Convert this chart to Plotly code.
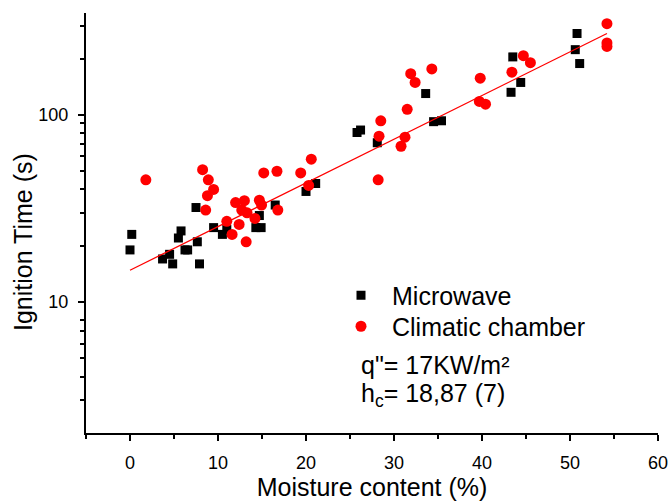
import plotly.graph_objects as go
import numpy as np

# Microwave series (moisture %, ignition time s)
mw_x = [0.0, 0.2, 3.7, 4.5, 4.85, 5.5, 5.8, 6.25, 6.55, 7.5, 7.65, 7.9, 9.5, 10.5, 11.0,
        14.3, 14.7, 14.9, 16.5, 20.0, 21.1, 25.8, 26.2, 28.1, 33.6, 34.5, 35.4,
        43.3, 43.5, 44.4, 50.6, 50.8, 51.1]
mw_y = [19, 23, 17, 18, 16, 22, 24, 19, 19, 32, 21, 16, 25, 23, 24.5,
        25, 29, 25, 33, 39, 43, 80.5, 83, 71, 130, 92, 93,
        132, 204, 149, 223, 272, 188]

# Climatic chamber series
cc_x = [1.8, 8.25, 8.6, 8.8, 8.9, 9.5, 11.0, 11.6, 12.0, 12.4, 12.7, 13.0, 13.2, 13.3,
        14.2, 14.7, 14.95, 15.2, 16.7, 16.8, 19.4, 20.3, 20.6, 28.2, 28.3, 28.5,
        30.8, 31.25, 31.5, 31.9, 32.4, 34.3, 39.7, 39.8, 40.4, 43.4, 44.7, 45.5,
        54.2, 54.2, 54.2]
cc_y = [45, 51, 31, 37, 45, 40, 27, 23, 34, 26, 31, 34.8, 21, 30,
        28, 35, 33, 49, 50, 31, 49, 42, 58, 45, 77, 93,
        68, 76, 107, 166, 149, 176, 118, 157, 114, 169, 207, 190,
        307, 242, 232]

# Fitted line end points
fit_x = [0.0, 54.2]
fit_y = [14.8, 272]

x_ticks = [0, 10, 20, 30, 40, 50, 60]
x_minor = [-5, 5, 15, 25, 35, 45, 55]
y_ticks = [10, 100]
y_minor = [3, 4, 5, 6, 7, 8, 20, 30, 40, 50, 60, 70, 80, 90, 200, 300]

FONT = "Arial, Liberation Sans, sans-serif"
BIG = 25

fig = go.Figure()
fig.add_trace(go.Scatter(x=mw_x, y=mw_y, mode="markers", name="Microwave", legend="legend",
                         marker=dict(symbol="square", size=9, color="black")))
fig.add_trace(go.Scatter(x=cc_x, y=cc_y, mode="markers", name="Climatic chamber",
                         legend="legend2",
                         marker=dict(symbol="circle", size=11, color="#ff0000")))
fig.add_trace(go.Scatter(x=fit_x, y=fit_y, mode="lines", showlegend=False,
                         line=dict(color="#ff0000", width=1.3)))

L, R, T, B = 86, 10, 13, 68
W, H = 668, 501
pw, ph = W - L - R, H - T - B

def px_x(p):
    return (p - L) / pw

def px_y(p):
    return (H - B - p) / ph

leg_common = dict(xanchor="left", yanchor="top", font=dict(size=BIG, family=FONT),
                  bgcolor="rgba(0,0,0,0)", itemwidth=52)

fig.update_layout(
    width=W, height=H,
    margin=dict(l=L, r=R, t=T, b=B, pad=0, autoexpand=False),
    paper_bgcolor="white", plot_bgcolor="white",
    font=dict(family=FONT, color="black", size=18),
    showlegend=True,
    legend=dict(x=px_x(330), y=px_y(272.5), **leg_common),
    legend2=dict(x=px_x(330), y=px_y(303.5), **leg_common),
    xaxis=dict(range=[-5, 60], tickmode="array", tickvals=x_ticks,
               ticktext=[str(v) for v in x_ticks], automargin=False,
               ticklabeloverflow="allow",
               showline=True, linecolor="black", linewidth=2,
               ticks="outside", ticklen=6, tickwidth=1.5, tickcolor="black",
               showgrid=False, zeroline=False, ticklabelstandoff=6,
               tickfont=dict(size=18),
               minor=dict(tickvals=x_minor, ticks="outside", ticklen=4, tickwidth=1.5,
                          tickcolor="black", showgrid=False),
               title=dict(text="Moisture content (%)", font=dict(size=BIG), standoff=12)),
    yaxis=dict(type="log", range=[np.log10(2), np.log10(350)], tickmode="array",
               tickvals=y_ticks, ticktext=[str(v) for v in y_ticks], automargin=False,
               ticklabeloverflow="allow",
               showline=True, linecolor="black", linewidth=2,
               ticks="outside", ticklen=6, tickwidth=1.5, tickcolor="black",
               showgrid=False, zeroline=False, ticklabelstandoff=6,
               tickfont=dict(size=18),
               minor=dict(tickvals=y_minor, ticks="outside", ticklen=4, tickwidth=1.5,
                          tickcolor="black", showgrid=False)),
)

fig.add_annotation(text="Ignition Time (s)", xref="paper", yref="paper",
                   x=px_x(23), y=px_y(242), textangle=-90, showarrow=False,
                   font=dict(size=BIG, family=FONT), xanchor="center", yanchor="middle")
fig.add_annotation(text="q\"= 17KW/m²", xref="paper", yref="paper",
                   x=px_x(359), y=px_y(365), showarrow=False, xanchor="left",
                   yanchor="middle", font=dict(size=BIG, family=FONT))
fig.add_annotation(text="h<sub>c</sub>= 18,87 (7)", xref="paper", yref="paper",
                   x=px_x(359), y=px_y(395), showarrow=False, xanchor="left",
                   yanchor="middle", font=dict(size=BIG, family=FONT))

fig.write_html("out.html",
               config={"displayModeBar": False},
               post_script="document.body.style.margin='0px';document.body.style.padding='0px';")
